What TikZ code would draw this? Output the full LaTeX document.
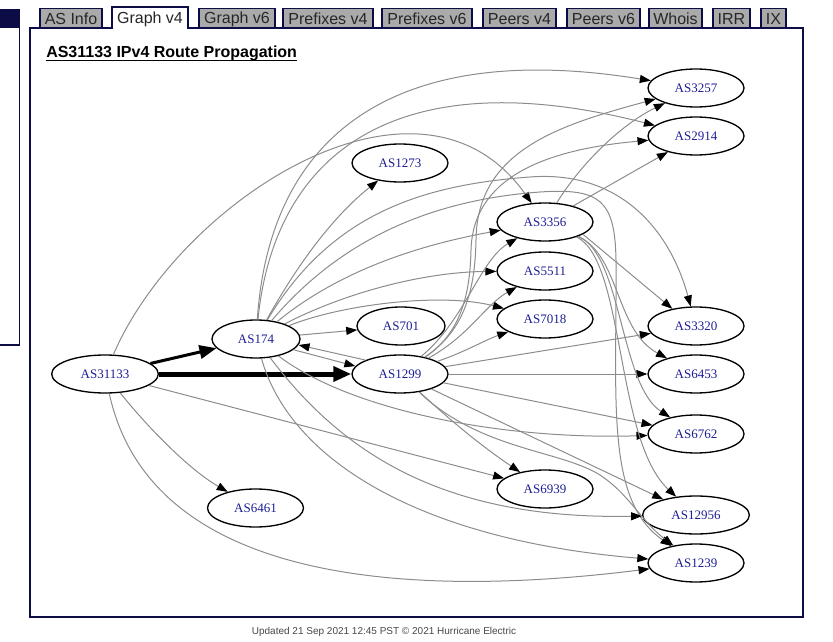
\documentclass[tikz,border=0pt]{standalone}
\usepackage{fontspec}
\setmainfont{Liberation Serif}
\newfontfamily\arialfont{Liberation Sans}
\usetikzlibrary{shapes.geometric,arrows.meta}
\definecolor{asblue}{RGB}{30,30,150}
\definecolor{navyline}{RGB}{12,12,70}
\definecolor{tabgray}{RGB}{170,170,170}
\definecolor{edgegray}{RGB}{140,140,140}
\definecolor{footgray}{RGB}{70,70,70}
\begin{document}
\begin{tikzpicture}[x=0.75pt,y=-0.75pt,
  asn/.style={ellipse, draw=black, line width=1pt, minimum width=72pt, minimum height=28.5pt, inner sep=0pt, font=\fontsize{9.75pt}{11pt}\selectfont, text=asblue},
  asnS/.style={asn, minimum width=66pt},
  asnL/.style={asn, minimum width=80pt},
  edg/.style={draw=edgegray, line width=0.75pt, -{Triangle[length=8.25pt,width=6pt,color=black]}},
  tabbox/.style={draw=navyline, line width=0.9pt, fill=tabgray},
  tabtext/.style={font=\arialfont\fontsize{12pt}{14pt}\selectfont, text=black!85, inner sep=0pt},
]
\useasboundingbox (0,0) rectangle (833,642);
% left panel
\fill[navyline] (0,9) rectangle (20,28);
\draw[navyline, line width=1pt] (19.5,28) -- (19.5,345) -- (0,345);
% main frame
\draw[navyline, line width=1pt] (30,28) rectangle (803,617);
% tabs
\draw[tabbox] (40,8.5) rectangle (102,28);
\node[tabtext] (t1) at (71,19) {AS Info};
\filldraw[draw=navyline, fill=white, line width=0.9pt] (112,28.6) -- (112,7) -- (188,7) -- (188,28.6);
\node[tabtext] (t2) at (150,19) {Graph v4};
\draw[tabbox] (199,8.5) rectangle (275,28);
\node[tabtext] (t3) at (237,19) {Graph v6};
\draw[tabbox] (283,8.5) rectangle (373,28);
\node[tabtext] (t4) at (328,19) {Prefixes v4};
\draw[tabbox] (382,8.5) rectangle (472,28);
\node[tabtext] (t5) at (427,19) {Prefixes v6};
\draw[tabbox] (483,8.5) rectangle (556,28);
\node[tabtext] (t6) at (519.5,19) {Peers v4};
\draw[tabbox] (567,8.5) rectangle (640,28);
\node[tabtext] (t7) at (603.5,19) {Peers v6};
\draw[tabbox] (649,8.5) rectangle (702,28);
\node[tabtext] (t8) at (675.5,19) {Whois};
\draw[tabbox] (713,8.5) rectangle (750,28);
\node[tabtext] (t9) at (731.5,19) {IRR};
\draw[tabbox] (761,8.5) rectangle (786,28);
\node[tabtext] (t10) at (773.5,19) {IX};
% title
\node[anchor=base west, inner sep=0pt, font=\arialfont\bfseries\fontsize{12pt}{14pt}\selectfont] (title) at (46,58) {AS31133 IPv4 Route Propagation};
\draw[line width=1pt] ([yshift=-2pt]title.base west) -- ([yshift=-2pt]title.base east);
% footer
\node[font=\arialfont\fontsize{7.5pt}{9pt}\selectfont, text=footgray] (foot) at (384,632) {Updated 21 Sep 2021 12:45 PST \textcopyright{} 2021 Hurricane Electric};

% nodes
\node[asnL] (AS31133) at (105,374) {AS31133};
\node[asnS] (AS174) at (256,339) {AS174};
\node[asn] (AS1299) at (400,374) {AS1299};
\node[asnS] (AS701) at (401,326) {AS701};
\node[asn] (AS1273) at (400,163) {AS1273};
\node[asn] (AS6461) at (255.5,508) {AS6461};
\node[asn] (AS3356) at (545,222) {AS3356};
\node[asn] (AS5511) at (545,271) {AS5511};
\node[asn] (AS7018) at (545,319) {AS7018};
\node[asn] (AS6939) at (545,489) {AS6939};
\node[asn] (AS3257) at (696,88) {AS3257};
\node[asn] (AS2914) at (696,136) {AS2914};
\node[asn] (AS3320) at (696,326) {AS3320};
\node[asn] (AS6453) at (696,374) {AS6453};
\node[asn] (AS6762) at (696,434) {AS6762};
\node[asnL] (AS12956) at (696,515) {AS12956};
\node[asn] (AS1239) at (696,563) {AS1239};

% thick edges
\draw[line width=2.25pt, -{Triangle[length=12.75pt,width=10pt]}] (AS31133) -- (AS174);
\draw[line width=3.75pt, -{Triangle[length=13.5pt,width=11pt]}] (AS31133) -- (AS1299);

% AS31133
\draw[edg] (AS31133) .. controls (180,200) and (420,45) .. (AS3356);
\draw[edg] (AS31133) .. controls (150,430) and (190,470) .. (AS6461);
\draw[edg] (AS31133) -- (AS6939);
\draw[edg] (AS31133) .. controls (150,580) and (400,600) .. (AS1239);

% AS174
\draw[edg] (AS174) .. controls (270,130) and (400,40) .. (AS3257);
\draw[edg] (AS174) .. controls (275,150) and (400,60) .. (AS2914);
\draw[edg] (AS174) .. controls (300,260) and (335,215) .. (AS1273);
\draw[edg] (AS174) .. controls (340,270) and (420,245) .. (AS3356);
\draw[edg] (AS174) .. controls (340,295) and (420,272) .. (AS5511);
\draw[edg] (AS174) .. controls (340,305) and (440,292) .. (AS7018);
\draw[edg] (AS174) -- (AS701);
\draw[edg] (AS174.-16) -- (AS1299.170);
\draw[edg] (AS1299.158) -- (AS174.-8);
\draw[edg] (AS174) .. controls (330,215) and (420,185) .. (530,177) .. controls (620,170) and (670,230) .. (AS3320);
\draw[edg] (AS174) .. controls (340,240) and (430,200) .. (540,192) .. controls (600,188) and (615,200) .. (616,260) .. controls (617,400) and (605,500) .. (AS1239);
\draw[edg] (AS174) .. controls (350,410) and (500,440) .. (AS6762);
\draw[edg] (AS174) .. controls (340,450) and (440,520) .. (AS12956);
\draw[edg] (AS174) .. controls (290,460) and (420,540) .. (AS1239);

% AS1299
\draw[edg] (AS1299) .. controls (465,330) and (475,290) .. (476,240) .. controls (477,150) and (560,125) .. (AS3257);
\draw[edg] (AS1299) .. controls (458,335) and (470,300) .. (471,250) .. controls (473,180) and (540,150) .. (AS2914);
\draw[edg] (AS1299) .. controls (465,320) and (480,260) .. (AS3356);
\draw[edg] (AS1299) .. controls (470,335) and (485,305) .. (AS5511);
\draw[edg] (AS1299) .. controls (465,352) and (485,340) .. (AS7018);
\draw[edg] (AS1299) -- (AS3320);
\draw[edg] (AS1299) -- (AS6453);
\draw[edg] (AS1299) -- (AS6762);
\draw[edg] (AS1299) -- (AS12956);
\draw[edg] (AS1299) .. controls (450,420) and (480,445) .. (AS6939);
\draw[edg] (AS1299) .. controls (480,450) and (560,450) .. (600,475) .. controls (630,495) and (640,520) .. (AS1239);

% AS3356
\draw[edg] (AS3356) .. controls (580,165) and (620,125) .. (AS3257);
\draw[edg] (AS3356) -- (AS2914);
\draw[edg] (AS3356.-18) -- (AS3320.144);
\draw[edg] (AS3356) .. controls (620,255) and (615,330) .. (AS6453);
\draw[edg] (AS3356) .. controls (622,255) and (620,385) .. (AS6762);
\draw[edg] (AS3356) .. controls (625,260) and (615,440) .. (AS12956);
\end{tikzpicture}
\end{document}
